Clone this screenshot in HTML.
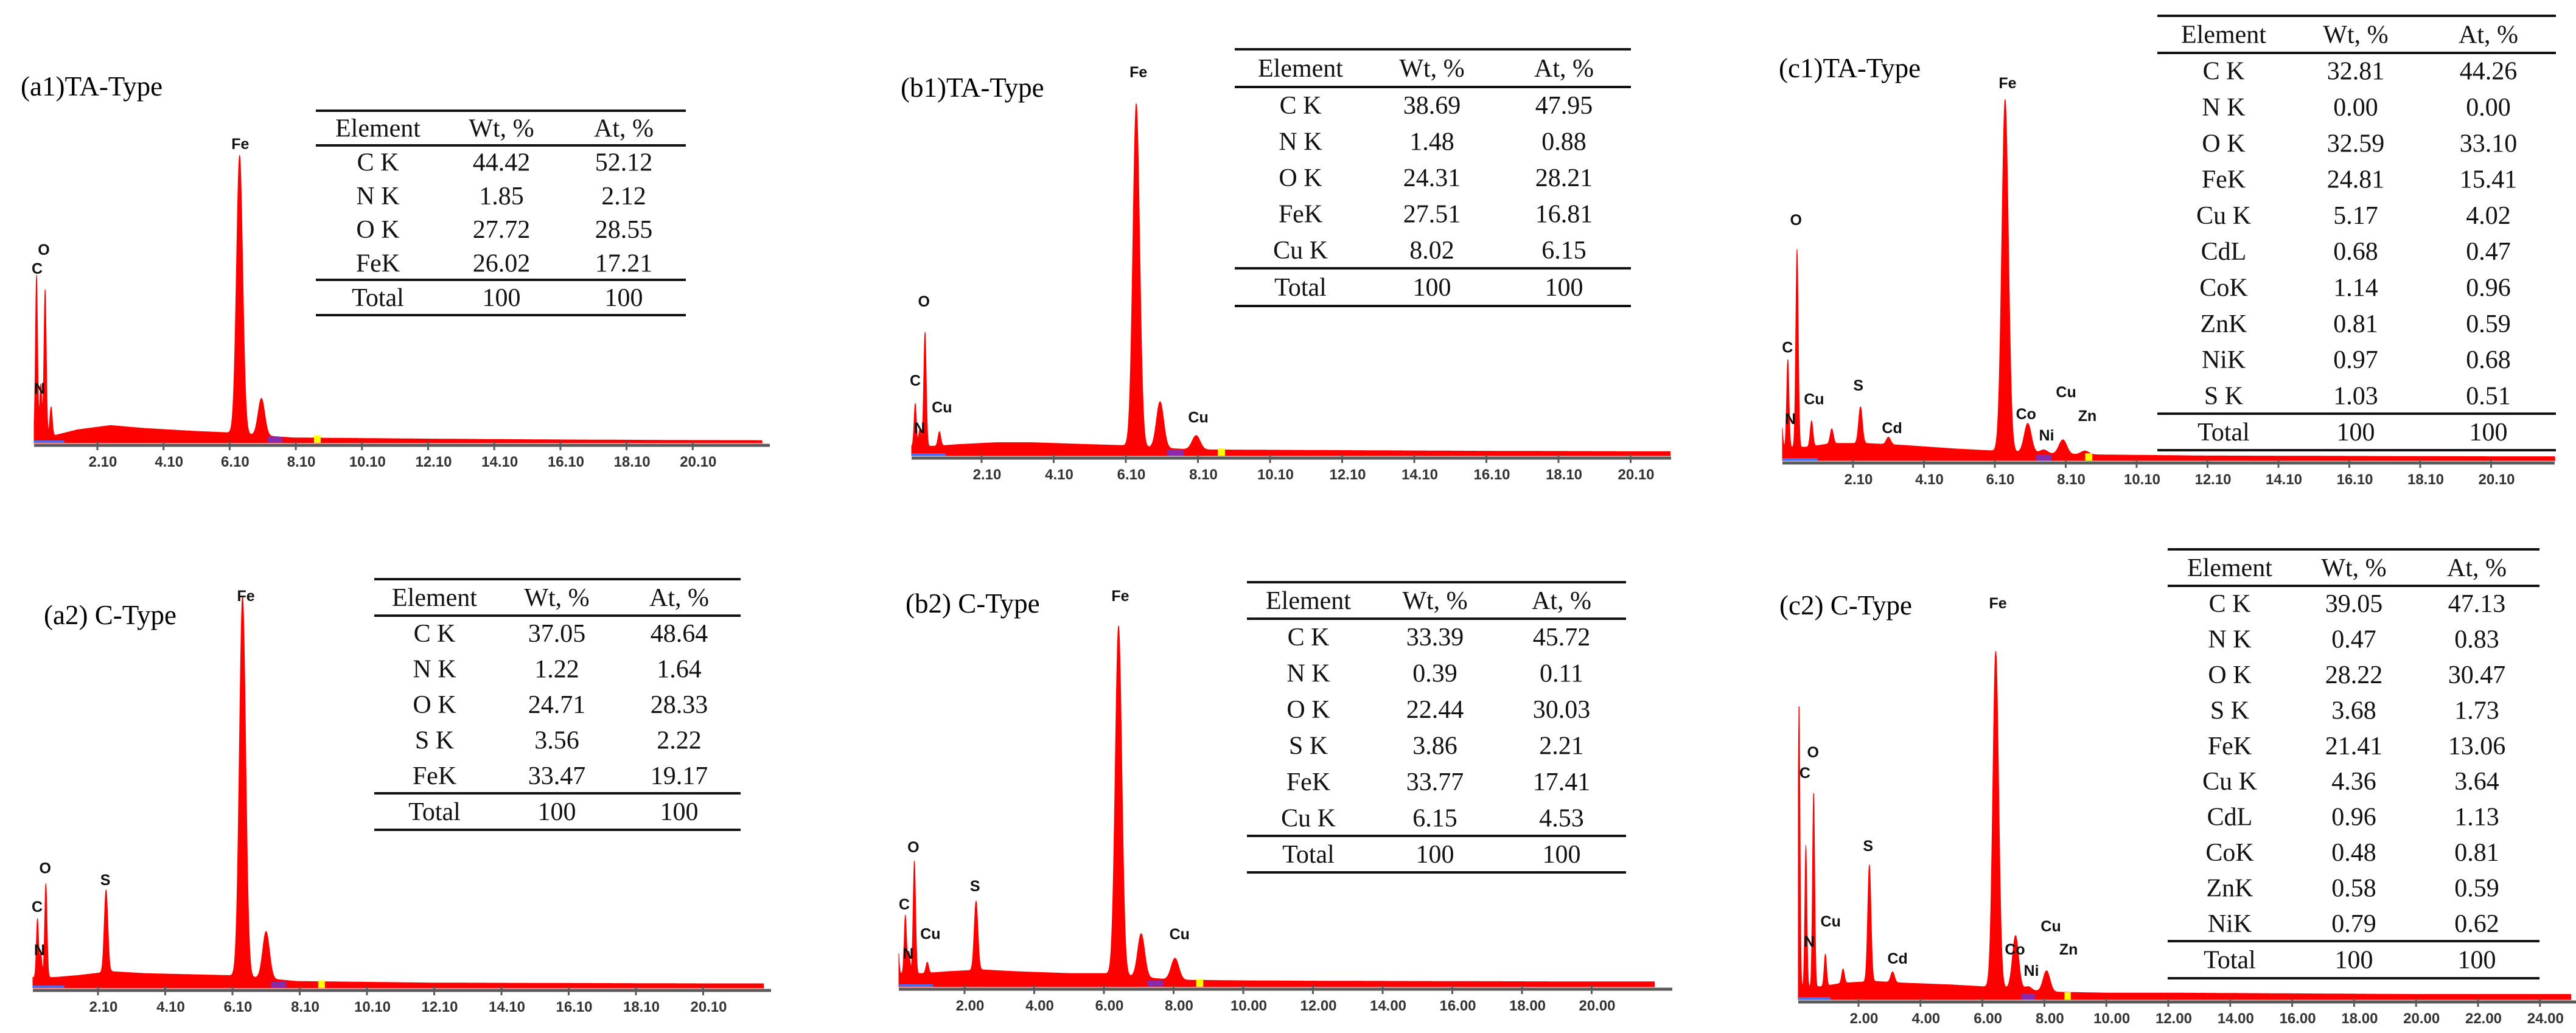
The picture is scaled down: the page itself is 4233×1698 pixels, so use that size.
<!DOCTYPE html>
<html><head><meta charset="utf-8"><style>
html,body{margin:0;padding:0;background:#fff;}
svg{display:block;}
</style></head><body>
<svg id="fig" xmlns="http://www.w3.org/2000/svg" width="4233" height="1698" viewBox="0 0 4233 1698">
<rect width="4233" height="1698" fill="#fff"/>
</svg>
<script>
// ---- data ----
const bgE = [0,0.8,1.5,2.5,3.5,5,6,7,8,10,12,16,20,25];

const a1PeakE = [0.26,0.39,0.52,0.70,6.40,7.06];
const a1PeakH = [56,18,51,10,97,13];
const a1BgH = [3,3,5,6.5,5.5,4.5,4,3,2.2,2,1.8,1.5,1.3,1.2];
const a1LabelText = ['Fe','O','C','N'];
const a1LabelE = [6.42,0.48,0.28,0.35];
const a1LabelH = [104.7,67.8,61.2,19.5];
const a1Elements = ['C K','N K','O K','FeK'];
const a1Wt = ['44.42','1.85','27.72','26.02'];
const a1At = ['52.12','2.12','28.55','17.21'];

const b1PeakE = [0.26,0.39,0.53,0.93,6.39,7.05,8.05];
const b1PeakH = [12,5,32,4,96,13,4];
const b1BgH = [3,3,3.5,4,4,3.5,3.2,2.5,2,1.9,1.8,1.6,1.5,1.5];
const b1LabelText = ['Fe','O','C','Cu','N','Cu'];
const b1LabelE = [6.45,0.50,0.26,1.0,0.38,8.11];
const b1LabelH = [107.8,43.6,21.5,14,8.2,11.2];
const b1Elements = ['C K','N K','O K','FeK','Cu K'];
const b1Wt = ['38.69','1.48','24.31','27.51','8.02'];
const b1At = ['47.95','0.88','28.21','16.81','6.15'];

const c1PeakE = [0.08,0.26,0.52,0.93,1.5,2.31,3.1,6.39,7.03,7.48,8.02,8.64];
const c1PeakH = [8,24,54,7,4,10,2,96,8,1,4,1];
const c1BgH = [4,4,5,5,4.5,3.5,3,2.5,2,1.8,1.6,1.5,1.4,1.4];
const c1LabelText = ['Fe','O','C','Cu','S','Cd','N','Co','Cu','Ni','Zn'];
const c1LabelE = [6.46,0.49,0.25,1.0,2.25,3.2,0.33,6.98,8.11,7.56,8.71];
const c1LabelH = [103.3,66,31.3,17.2,20.9,9.3,11.8,13.1,19.1,7.3,12.6];
const c1Elements = ['C K','N K','O K','FeK','Cu K','CdL','CoK','ZnK','NiK','S K'];
const c1Wt = ['32.81','0.00','32.59','24.81','5.17','0.68','1.14','0.81','0.97','1.03'];
const c1At = ['44.26','0.00','33.10','15.41','4.02','0.47','0.96','0.59','0.68','0.51'];

const a2PeakE = [0.3,0.4,0.55,2.34,6.4,7.1];
const a2PeakH = [15,6,24,21,97,12];
const a2BgH = [3,3,3.5,4.5,4,3.7,3.5,2.8,2,1.8,1.6,1.5,1.4,1.4];
const a2LabelText = ['Fe','O','S','C','N'];
const a2LabelE = [6.5,0.53,2.32,0.29,0.36];
const a2LabelH = [100.3,30.9,27.9,21.1,10.1];
const a2Elements = ['C K','N K','O K','S K','FeK'];
const a2Wt = ['37.05','1.22','24.71','3.56','33.47'];
const a2At = ['48.64','1.64','28.33','2.22','19.17'];

const b2PeakE = [0.08,0.3,0.4,0.56,0.93,2.33,6.42,7.07,8.04];
const b2PeakH = [10,16,6,31,3,19,96,12,6];
const b2BgH = [4,4,4.5,5,4.5,4,4,3,2.2,2,1.9,1.8,1.7,1.7];
const b2LabelText = ['Fe','O','S','C','Cu','N','Cu'];
const b2LabelE = [6.47,0.53,2.3,0.27,1.02,0.38,8.17];
const b2LabelH = [107.9,38.8,28.1,23.1,15,9.5,14.9];
const b2Elements = ['C K','N K','O K','S K','FeK','Cu K'];
const b2Wt = ['33.39','0.39','22.44','3.86','33.77','6.15'];
const b2At = ['45.72','0.11','30.03','2.21','17.41','4.53'];

const c2PeakE = [0.08,0.3,0.55,0.93,1.5,2.35,3.1,6.43,7.07,7.48,8.07];
const c2PeakH = [80,40,55,9,4,33,3,95,15,1,6];
const c2BgH = [4,4,5,5.5,5,4.5,4,3.5,2.5,2.2,2.2,2,1.8,1.8];
const c2LabelText = ['Fe','O','C','S','Cu','N','Cd','Co','Cu','Ni','Zn'];
const c2LabelE = [6.5,0.53,0.27,2.31,1.1,0.41,3.26,7.05,8.21,7.58,8.78];
const c2LabelH = [112.4,70.3,64.4,43.8,22.5,16.8,12,14.6,21.1,8.6,14.6];
const c2Elements = ['C K','N K','O K','S K','FeK','Cu K','CdL','CoK','ZnK','NiK'];
const c2Wt = ['39.05','0.47','28.22','3.68','21.41','4.36','0.96','0.48','0.58','0.79'];
const c2At = ['47.13','0.83','30.47','1.73','13.06','3.64','1.13','0.81','0.59','0.62'];

const ticks210E = [2.1,4.1,6.1,8.1,10.1,12.1,14.1,16.1,18.1,20.1];
const ticks210Labels = ['2.10','4.10','6.10','8.10','10.10','12.10','14.10','16.10','18.10','20.10'];
const ticks200E = [2,4,6,8,10,12,14,16,18,20];
const ticks200Labels = ['2.00','4.00','6.00','8.00','10.00','12.00','14.00','16.00','18.00','20.00'];
const ticksC2E = [2,4,6,8,10,12,14,16,18,20,22,24];
const ticksC2Labels = ['2.00','4.00','6.00','8.00','10.00','12.00','14.00','16.00','18.00','20.00','22.00','24.00'];

// ---- drawing ----
const NS = 'http://www.w3.org/2000/svg';
const svg = document.getElementById('fig');
function mk(tag, attrs, parent){
  const e = document.createElementNS(NS, tag);
  for (const k in attrs) e.setAttribute(k, attrs[k]);
  parent.appendChild(e);
  return e;
}
function interp(xs, ys, x){
  if (x <= xs[0]) return ys[0];
  for (let i=1;i<xs.length;i++){ if (x <= xs[i]) { const t=(x-xs[i-1])/(xs[i]-xs[i-1]); return ys[i-1]+t*(ys[i]-ys[i-1]); } }
  return ys[ys.length-1];
}

function drawPanel(cfg, peakE, peakH, bgH, tickE, tickLabels, labText, labE, labH, els, wts, ats){
  const g = mk('g', {}, svg);
  
  
  const xAt = E => cfg.tx + (E - cfg.tE) * cfg.ppk;
  const yAt = v => cfg.base - v * cfg.ppu;

  // title
  const t = mk('text', {x: cfg.titleX, y: cfg.titleY + 15, 'font-family': '"Liberation Serif", serif', 'font-size': 45, fill: '#000'}, g);
  
  
  t.textContent = cfg.title;

  // spectrum
  const e0 = (cfg.ax0 - cfg.tx) / cfg.ppk + cfg.tE;
  let pts = [xAt(e0).toFixed(1) + ',' + (cfg.base - 2)];
  for (let px = cfg.ax0; px <= xAt(cfg.e1); px += 0.5){
    const E = (px - cfg.tx) / cfg.ppk + cfg.tE;
    let v = interp(bgE, bgH, E);
    for (let i=0;i<peakE.length;i++){
      const s = 0.03 + 0.01 * peakE[i];
      v += peakH[i] * Math.exp(-Math.pow(E - peakE[i], 2) / (2*s*s));
    }
    pts.push(px.toFixed(1) + ',' + yAt(v).toFixed(1));
  }
  pts.push(xAt(cfg.e1).toFixed(1) + ',' + (cfg.base - 2));
  const sp = mk('polygon', {points: pts.join(' '), fill: '#ff0000', stroke: '#ff0000', 'stroke-width': 1}, g);
  
  

  // colored markers
  const bl = mk('rect', {x: cfg.ax0, y: cfg.base - 6, width: xAt(1.1) - cfg.ax0, height: 4, fill: '#4a6cf0'}, g);
  
  
  const pu = mk('rect', {x: xAt(7.25), y: cfg.base - 12, width: xAt(7.7) - xAt(7.25), height: 10, fill: '#8a2aa8'}, g);
  
  
  const ye = mk('rect', {x: xAt(8.65), y: cfg.base - 14, width: xAt(8.85) - xAt(8.65), height: 12, fill: '#ffff00'}, g);
  
  

  // axis
  const ax = mk('line', {x1: cfg.ax0, x2: cfg.ax1, y1: cfg.base + 2, y2: cfg.base + 2, stroke: '#5a5a5a', 'stroke-width': 5}, g);
  
  
  for (let i=0;i<tickE.length;i++){
    const x = xAt(tickE[i]);
    const tk = mk('line', {x1: x, x2: x, y1: cfg.base - 4, y2: cfg.base + 10, stroke: '#5a5a5a', 'stroke-width': 3}, g);
    
    
    const tl = mk('text', {x: x + 9, y: cfg.base + 37, 'text-anchor': 'middle', 'font-family': '"Liberation Sans", sans-serif', 'font-weight': 'bold', 'font-size': 24, fill: '#333'}, g);
    
    
    tl.textContent = tickLabels[i];
  }

  // peak labels
  for (let i=0;i<labText.length;i++){
    const pl = mk('text', {x: xAt(labE[i]), y: yAt(labH[i]) + 9, 'text-anchor': 'middle', 'font-family': '"Liberation Sans", sans-serif', 'font-weight': 'bold', 'font-size': 25, fill: '#111'}, g);
    
    
    pl.textContent = labText[i];
  }

  // table
  const tg = mk('g', {'font-family': '"Liberation Serif", serif', 'font-size': 42, fill: '#111', 'text-anchor': 'middle'}, g);
  
  
  const L = cfg.lines;
  for (const ly of L){
    const ln = mk('line', {x1: cfg.tx0, x2: cfg.tx1, y1: ly, y2: ly, stroke: '#111', 'stroke-width': 4}, tg);
    
    
  }
  const hdr = ['Element','Wt, %','At, %'];
  for (let c=0;c<3;c++){
    const h = mk('text', {x: cfg.cols[c], y: (L[0]+L[1])/2 + 14}, tg);
    
    
    h.textContent = hdr[c];
  }
  const n = els.length;
  for (let r=0;r<n;r++){
    const y = L[1] + (L[2]-L[1]) * (r + 0.5) / n + 14;
    const vals = [els[r], wts[r], ats[r]];
    for (let c=0;c<3;c++){
      const tc = mk('text', {x: cfg.cols[c], y: y}, tg);
      
      
      tc.textContent = vals[c];
    }
  }
  const tot = ['Total','100','100'];
  for (let c=0;c<3;c++){
    const tc = mk('text', {x: cfg.cols[c], y: (L[2]+L[3])/2 + 14}, tg);
    
    
    tc.textContent = tot[c];
  }
}

drawPanel({id:'a1', title:'(a1)TA-Type', titleX:34, titleY:142, tx:160, tE:2.1, ppk:54.35, base:730, ppu:4.72, ax0:56, ax1:1265, e1:22.2,
  tx0:519, tx1:1127, lines:[182,239,460,518], cols:[621,824,1025]},
  a1PeakE, a1PeakH, a1BgH, ticks210E, ticks210Labels, a1LabelText, a1LabelE, a1LabelH, a1Elements, a1Wt, a1At);

drawPanel({id:'b1', title:'(b1)TA-Type', titleX:1480, titleY:144, tx:1613, tE:2.1, ppk:59.25, base:751, ppu:5.87, ax0:1498, ax1:2746, e1:21.2,
  tx0:2029, tx1:2680, lines:[81,143,441,503], cols:[2137,2353,2570]},
  b1PeakE, b1PeakH, b1BgH, ticks210E, ticks210Labels, b1LabelText, b1LabelE, b1LabelH, b1Elements, b1Wt, b1At);

drawPanel({id:'c1', title:'(c1)TA-Type', titleX:2923, titleY:112, tx:3045, tE:2.1, ppk:58.25, base:759, ppu:6.03, ax0:2929, ax1:4198, e1:21.9,
  tx0:3545, tx1:4200, lines:[26,87,680,740], cols:[3654,3871,4089]},
  c1PeakE, c1PeakH, c1BgH, ticks210E, ticks210Labels, c1LabelText, c1LabelE, c1LabelH, c1Elements, c1Wt, c1At);

drawPanel({id:'a2', title:'(a2) C-Type', titleX:72, titleY:1011, tx:161, tE:2.1, ppk:55.25, base:1626, ppu:6.45, ax0:54, ax1:1267, e1:21.9,
  tx0:615, tx1:1217, lines:[952,1012,1304,1364], cols:[714,915,1116]},
  a2PeakE, a2PeakH, a2BgH, ticks210E, ticks210Labels, a2LabelText, a2LabelE, a2LabelH, a2Elements, a2Wt, a2At);

drawPanel({id:'b2', title:'(b2) C-Type', titleX:1488, titleY:992, tx:1585, tE:2.0, ppk:57.25, base:1624, ppu:5.98, ax0:1477, ax1:2748, e1:21.8,
  tx0:2049, tx1:2672, lines:[957,1017,1374,1434], cols:[2150,2358,2566]},
  b2PeakE, b2PeakH, b2BgH, ticks200E, ticks200Labels, b2LabelText, b2LabelE, b2LabelH, b2Elements, b2Wt, b2At);

drawPanel({id:'c2', title:'(c2) C-Type', titleX:2924, titleY:995, tx:3054, tE:2.0, ppk:50.9, base:1645, ppu:5.82, ax0:2955, ax1:4233, e1:25,
  tx0:3562, tx1:4173, lines:[903,963,1547,1608], cols:[3664,3868,4070]},
  c2PeakE, c2PeakH, c2BgH, ticksC2E, ticksC2Labels, c2LabelText, c2LabelE, c2LabelH, c2Elements, c2Wt, c2At);
</script>
</body></html>
